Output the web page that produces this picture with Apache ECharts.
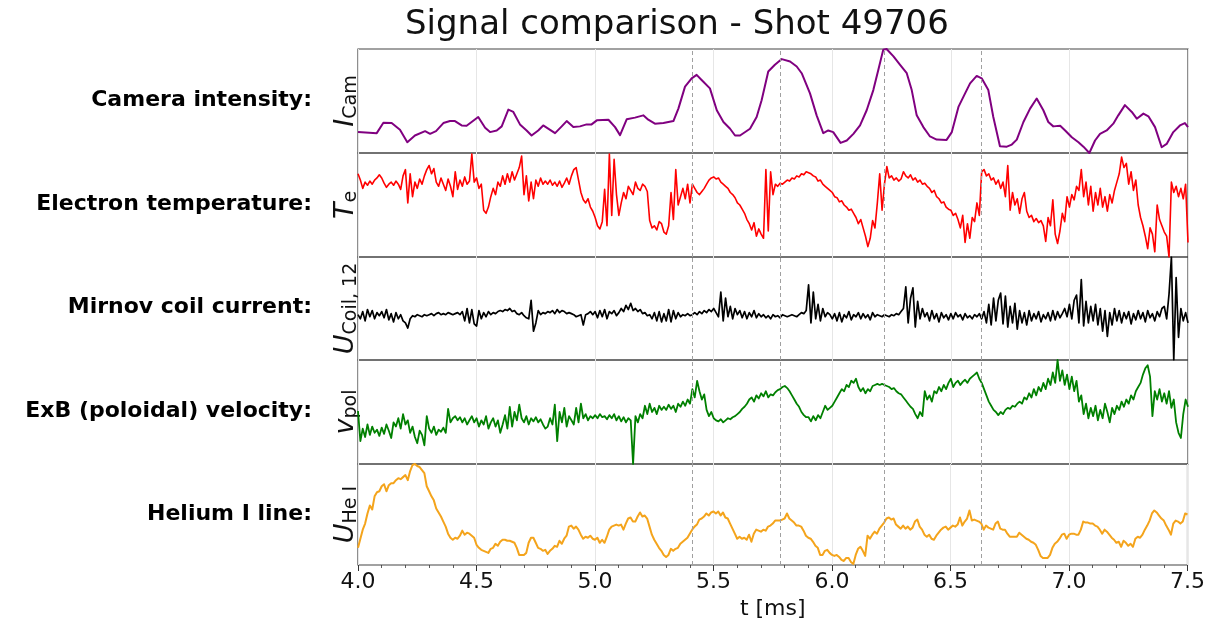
<!DOCTYPE html>
<html><head><meta charset="utf-8">
<script src="https://cdn.jsdelivr.net/npm/echarts@6/dist/echarts.min.js"></script>
<style>html,body{margin:0;padding:0;background:#fff}#c{width:1208px;height:621px}</style>
</head><body><div id="c"></div>
<script>
// ---------- data (values are % of each panel's height) ----------
const titleText = 'Signal comparison - Shot 49706';
const xName = 't [ms]';
const tStart = 4.0;
const tStep = 0.01;
const dashTimes = [5.41, 5.78, 6.22, 6.63];
const panelLabels = ['Camera intensity:', 'Electron temperature:', 'Mirnov coil current:', 'ExB (poloidal) velocity:', 'Helium I line:'];
const yNames = ['{i|I}{s|Cam}', '{i|T}{s|e}', '{i|U}{s|Coil, 12}', '{i|v}{s|pol}', '{i|U}{s|He I}'];
const colors = ['#800080', '#ff0000', '#000000', '#008000', '#f4a41c'];

const camT = [4.000,4.079,4.107,4.142,4.177,4.208,4.240,4.283,4.304,4.329,4.360,4.388,4.409,4.437,4.458,4.479,4.507,4.536,4.557,4.585,4.606,4.634,4.655,4.683,4.711,4.732,4.760,4.781,4.810,4.831,4.859,4.880,4.908,4.936,4.964,4.985,5.007,5.056,5.084,5.105,5.133,5.168,5.203,5.224,5.252,5.288,5.330,5.351,5.379,5.407,5.428,5.449,5.484,5.513,5.541,5.569,5.590,5.611,5.653,
5.681,5.702,5.730,5.758,5.787,5.822,5.850,5.871,5.906,5.934,5.962,5.983,6.004,6.035,6.061,6.089,6.117,6.145,6.173,6.194,6.215,6.229,6.258,6.286,6.314,6.335,6.356,6.384,6.412,6.440,6.482,6.504,6.532,6.560,6.581,6.609,6.630,6.658,6.679,6.707,6.736,6.757,6.778,6.806,6.834,6.862,6.890,6.911,6.932,6.961,6.982,7.010,7.038,7.059,7.084,7.108,7.129,7.157,7.185,7.206,7.234,7.263,7.284,7.312,7.333,7.361,7.389,7.410,7.438,7.466,7.487,7.500];
const camV = [20.1,19.1,29.1,28.8,22.3,10.4,16.8,21.0,18.4,21.0,28.8,30.7,30.7,26.5,26.2,29.8,34.6,24.3,20.1,21.7,25.6,41.7,39.5,27.5,21.7,16.8,21.7,26.5,22.3,19.1,25.6,30.7,24.9,25.6,27.5,27.5,31.4,32.0,24.9,17.2,32.4,34.0,36.2,32.0,28.2,28.8,30.7,42.7,63.8,71.8,75.1,70.2,62.1,41.1,29.8,23.3,16.8,16.8,23.3,
34.6,50.8,78.3,84.8,90.3,88.0,83.2,76.7,57.3,36.2,19.1,21.7,20.1,9.7,12.0,18.4,26.5,41.1,60.5,79.9,99.4,100,92.9,84.8,76.7,60.5,36.2,24.9,15.9,12.9,12.6,20.1,44.3,57.3,67.0,74.1,71.8,60.5,34.6,6.5,6.1,8.1,12.9,29.8,42.7,52.4,41.1,29.8,25.6,26.2,21.7,15.2,10.4,6.1,0,12.0,18.4,21.7,28.2,36.2,46.0,39.5,33.0,37.9,35.3,24.9,5.5,8.7,20.1,26.5,28.8,24.9];

const teV = [
80,74,66,72,69,73,70,74,76,79, 76,71,67,70,72,69,73,70,65,78, 84,52,80,58,72,66,75,70,78,84, 88,80,85,72,68,76,70,64,75,68,
58,82,65,74,68,77,70,73,99,72, 76,66,70,45,42,48,58,66,60,72, 68,78,70,80,72,82,74,80,86,97, 60,78,54,72,56,74,68,76,70,73,
70,74,69,72,68,73,67,71,76,70, 78,84,86,74,62,55,52,56,48,44, 38,30,27,34,65,30,99,40,94,60, 40,52,62,56,68,64,60,72,66,64,
70,68,63,35,28,30,26,34,32,24, 22,30,62,36,84,50,58,66,56,70, 52,70,66,62,60,63,66,70,74,76, 77,75,76,72,70,68,66,62,60,57,
52,50,46,42,36,32,26,33,20,27, 22,18,84,25,82,60,70,68,71,70, 72,74,73,76,75,78,77,80,79,82, 81,80,78,77,73,74,70,68,66,64,
62,58,57,53,54,50,48,45,46,42, 38,32,36,28,20,10,18,35,28,52, 80,45,70,87,76,78,74,76,73,75, 82,78,76,79,74,76,72,74,70,71,
68,66,62,64,58,56,52,53,48,46, 45,40,42,36,28,40,14,32,18,38, 34,52,40,82,84,78,80,74,76,70, 74,66,72,58,88,45,62,50,56,42,
56,62,44,38,40,34,37,33,35,30, 15,38,30,55,22,13,25,42,34,58, 48,60,55,68,64,84,58,72,50,68, 44,62,50,66,48,58,44,60,52,64,
72,80,96,86,90,70,82,64,74,50, 38,30,20,8,28,22,5,50,36,30, 24,20,0,72,62,68,58,66,56,70, 14];

const mirV = [
44,40,47,38,49,42,48,40,46,43, 47,41,49,39,45,37,46,40,44,38, 36,31,40,43,42,44,43,42,44,43, 44,45,43,45,46,44,45,44,46,45,
44,45,46,44,47,38,50,36,49,35, 33,48,40,46,42,47,44,46,45,47, 48,47,49,48,50,47,48,45,44,46, 43,41,40,58,28,36,48,44,46,45,
47,46,48,45,49,46,48,47,45,46, 45,44,42,43,44,34,44,45,47,44, 47,41,48,42,49,40,47,45,48,43, 46,50,47,53,49,55,48,50,47,49,
45,46,43,44,40,46,38,47,37,45, 38,49,37,48,40,46,42,44,43,45, 43,44,46,44,47,45,48,46,49,47, 50,46,42,66,38,60,42,52,40,50,
44,48,41,47,40,46,42,48,41,45, 42,44,41,43,40,44,42,43,41,44, 43,42,43,44,43,42,44,46,45,48, 73,36,66,40,54,38,50,42,46,44,
40,45,38,46,37,44,41,47,39,44, 42,46,40,45,41,44,39,46,42,44, 43,42,44,43,42,44,43,45,44,47, 50,71,36,60,70,32,57,40,50,42,
46,38,48,40,45,37,46,41,44,39, 45,40,46,42,44,39,45,41,43,40, 44,42,45,40,47,36,54,34,60,38, 58,65,35,62,32,52,36,55,30,48,
36,46,34,48,38,45,40,47,37,44, 40,46,38,48,39,47,41,45,50,42, 54,40,58,63,36,78,33,57,36,52, 38,54,34,50,28,48,23,46,34,50,
38,48,36,46,40,47,35,45,39,48, 40,46,37,48,41,45,38,47,42,50, 52,40,64,100,0,80,22,50,38,46, 36];

const vpolV = [
51,22,34,26,38,28,36,30,33,27, 35,29,38,32,25,40,36,44,34,48, 38,42,30,36,26,20,32,28,18,46, 34,30,36,28,33,31,35,30,53,40,
44,46,42,45,40,44,38,42,46,40, 44,36,42,38,46,34,40,44,36,42, 30,38,47,34,55,36,50,42,57,44, 40,46,38,44,41,45,40,43,38,34,
36,44,38,57,22,50,40,54,36,46, 42,38,54,40,58,44,48,42,46,44, 47,44,48,45,46,43,47,44,48,42, 46,41,45,40,44,42,0,46,40,48,
44,56,48,58,50,54,48,56,52,55, 52,57,53,56,50,58,55,60,56,62, 58,72,64,80,70,62,67,52,46,50, 44,42,41,43,40,42,44,43,45,46,
48,50,53,55,58,62,64,60,66,63, 68,65,70,64,67,66,69,71,72,74, 75,73,70,66,62,58,55,50,47,45, 45,41,46,42,47,44,50,56,52,54,
56,60,64,68,72,70,76,74,80,78, 82,74,70,73,68,72,70,75,76,77, 76,77,76,75,74,72,73,70,68,67, 64,61,58,55,53,48,44,50,46,70,
62,66,60,70,68,74,70,76,72,78, 82,74,78,80,76,79,81,78,82,84, 86,88,82,78,72,66,60,56,52,50, 47,50,48,52,54,53,56,55,58,60,
58,64,62,68,64,72,66,74,70,78, 72,82,76,88,78,100,80,90,76,86, 72,84,70,80,60,66,48,58,44,54, 46,56,42,52,44,58,50,40,54,48,
56,52,60,55,62,58,66,62,70,74, 78,86,92,95,84,46,70,62,72,60, 68,58,70,54,62,40,30,25,48,62, 55];

const heV = [
17,26,35,41,51,59,55,68,72,73, 78,80,73,79,81,81,84,86,85,87, 89,84,93,99,100,98,97,94,91,78, 73,68,64,56,52,48,43,38,31,27,
25,27,26,29,34,30,32,31,29,27, 20,17,15,14,13,12,16,17,21,19, 23,25,25,24,24,23,22,17,10,10, 10,12,22,27,27,22,17,16,14,15,
11,14,16,19,18,24,21,26,29,38, 39,36,38,35,30,26,28,27,29,26, 25,27,22,25,22,28,35,38,39,40, 39,40,35,41,46,47,43,43,48,52,
48,49,46,38,30,25,21,17,14,10, 8,10,16,14,16,17,21,23,25,27, 31,35,38,40,45,46,48,51,49,52, 53,51,53,49,52,47,46,41,36,31,
26,28,26,27,25,30,23,31,35,34, 33,35,34,38,39,41,44,44,44,45, 46,51,46,44,42,39,39,38,34,29, 27,26,23,19,17,10,10,14,15,12,
10,9,10,8,5,4,7,7,3,1, 10,16,18,14,9,29,26,30,33,31, 36,39,42,46,47,45,46,40,38,36, 39,36,38,35,37,43,45,38,35,30,
28,30,26,25,29,32,35,37,38,35, 37,39,38,40,47,39,43,46,54,44, 45,44,43,41,35,39,37,36,35,41, 43,36,35,35,31,28,28,28,28,32,
30,28,26,25,23,22,20,15,9,7, 7,7,10,17,21,23,26,30,31,26, 30,31,31,30,30,35,43,42,42,41, 41,39,38,35,31,35,33,30,27,25,
22,23,18,24,22,19,21,18,26,28, 27,30,35,39,44,51,54,52,49,46, 44,39,35,30,41,44,43,41,43,51, 50];

// ---------- chart ----------
const sampled = vals => vals.map((v, i) => [+(tStart + i * tStep).toFixed(2), v]);
const seriesData = [camT.map((t, i) => [t, camV[i]]), sampled(teV), sampled(mirV), sampled(vpolV), sampled(heV)];
const widths = [2, 1.6, 1.7, 1.8, 2];

const panels = [{top: 49, height: 104}, {top: 153, height: 104}, {top: 257, height: 103}, {top: 360, height: 104}, {top: 464, height: 103}];
const FONT = 'DejaVu Sans';
const last = panels.length - 1;

const option = {
  animation: false,
  backgroundColor: '#fff',
  title: {
    text: titleText, left: 400, top: 3,
    textStyle: {fontFamily: FONT, fontSize: 34, fontWeight: 'normal', color: '#111'}
  },
  grid: panels.map(p => ({left: 358, right: 20, top: p.top, height: p.height, show: true,
    borderColor: '#444', borderWidth: 1.2, backgroundColor: 'transparent'})),
  xAxis: panels.map((p, i) => ({
    gridIndex: i, type: 'value', min: 4, max: 7.5, interval: 0.5,
    axisLine: {show: false},
    axisTick: {show: i === last, length: 6, lineStyle: {color: '#333', width: 1}},
    minorTick: {show: i === last, splitNumber: 5, length: 3, lineStyle: {color: '#333', width: 0.8}},
    axisLabel: {show: i === last, fontFamily: FONT, fontSize: 22, color: '#111', margin: 6,
      formatter: v => v.toFixed(1)},
    splitLine: {show: true, lineStyle: {color: '#e6e6e6', width: 1}},
    name: i === last ? xName : '', nameLocation: 'middle', nameGap: 33,
    nameTextStyle: {fontFamily: FONT, fontSize: 22, color: '#111'}
  })),
  yAxis: panels.map((p, i) => ({
    gridIndex: i, type: 'value', min: 0, max: 100,
    axisLine: {show: false}, axisTick: {show: false}, axisLabel: {show: false}, splitLine: {show: false},
    name: yNames[i], nameLocation: 'middle', nameRotate: 90, nameGap: 12,
    nameTextStyle: {align: 'center', verticalAlign: 'middle', color: '#111',
      rich: {
        i: {fontFamily: FONT, fontSize: 27, fontStyle: 'italic', color: '#111', lineHeight: 30},
        s: {fontFamily: FONT, fontSize: 19, color: '#111', lineHeight: 30, padding: [10, 0, 0, 0]}
      }}
  })),
  graphic: panelLabels.map((txt, i) => ({
    type: 'text', x: 312, y: panels[i].top + panels[i].height / 2 - 1,
    style: {text: txt, fill: '#000', font: 'bold 22px "DejaVu Sans"', align: 'right', verticalAlign: 'middle'}
  })),
  series: seriesData.map((d, i) => ({
    type: 'line', xAxisIndex: i, yAxisIndex: i, data: d, showSymbol: false, symbol: 'none',
    sampling: null, clip: true,
    lineStyle: {color: colors[i], width: widths[i], join: 'round'},
    markLine: {silent: true, symbol: ['none', 'none'], label: {show: false}, animation: false,
      lineStyle: {type: [4, 3], color: '#a0a0a0', width: 1},
      data: dashTimes.map(t => ({xAxis: t}))}
  }))
};
const chart = echarts.init(document.getElementById('c'), null, {renderer: 'canvas'});
chart.setOption(option);
</script></body></html>
